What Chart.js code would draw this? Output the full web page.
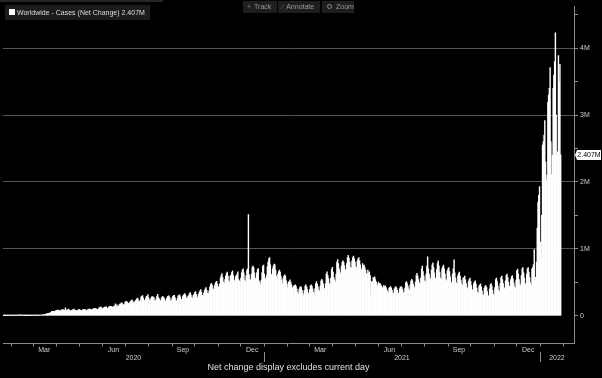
<!DOCTYPE html>
<html><head><meta charset="utf-8">
<script src="https://cdn.jsdelivr.net/npm/chart.js@4.4.1/dist/chart.umd.min.js"></script>
<style>
html,body{margin:0;padding:0;background:#000;width:602px;height:378px;overflow:hidden;}
#wrap{position:relative;width:602px;height:378px;background:#000;}
canvas{position:absolute;left:0;top:0;}
.topband{position:absolute;left:0;top:0;width:163px;height:2px;background:#262626;}
.legend{position:absolute;left:5px;top:5px;width:145px;height:15px;background:#1c1c1c;font:7px "Liberation Sans",Arial,sans-serif;color:#dcdcdc;line-height:15px;white-space:nowrap;}
.legend .sw{position:absolute;left:4px;top:4px;width:6px;height:6px;background:#fff;}
.legend .tx{position:absolute;left:12px;top:0;}
.tool{position:absolute;top:1px;height:12px;background:#1e1e1e;color:#9a9a9a;font:7px "Liberation Sans",Arial,sans-serif;line-height:12px;white-space:nowrap;}
.tool .ic{color:#777;margin:0 3px 0 4px;}
.tool .mag{display:inline-block;width:3px;height:3px;border:1px solid #888;border-radius:50%;margin:0 4px 0 5px;position:relative;top:0px;}
.foot{position:absolute;left:0;width:577px;top:362px;text-align:center;font:9px "Liberation Sans",Arial,sans-serif;color:#e0e0e0;white-space:nowrap;}
</style></head>
<body>
<div id="wrap">
<canvas id="c" width="602" height="378"></canvas>
<div class="topband"></div>
<div class="legend"><div class="sw"></div><div class="tx" id="legtx"></div></div>
<div class="tool" style="left:243px;width:34px;"><span class="ic">+</span>Track</div>
<div class="tool" style="left:278px;width:42px;"><span class="ic">&#8725;</span>Annotate</div>
<div class="tool" style="left:322px;width:32px;"><span class="mag"></span>Zoom</div>
<div class="foot">Net change display excludes current day</div>
</div>
<script>
// Worldwide daily cases (net change), thousands, one value per day starting 2020-01-22
const seriesName = 'Worldwide - Cases (Net Change)';
const firstDate = [2020, 1, 22];
// 2020-01-22 .. 2020-07-14
const casesA = [
0.5,0.3,0.6,0.8,1.2,1.5,1.8, 1.7,2.0,2.1,2.6,2.8,3.2,3.9, 3.7,3.2,3.4,2.7,3.0,2.6,2.0,
2.1,15.1,6.5,2.6,2.1,2.0,1.9, 0.5,0.6,1.0,0.6,0.9,0.5,0.9, 1.1,1.3,1.8,1.8,1.8,2.5,2.4,
2.5,2.8,3.9,4.1,3.8,4.0,4.6, 7.5,7.6,10.9,10.8,11.0,13.8,14.7, 17.4,27.2,30.0,30.3,33.7,39.1,42.5,
50.8,62.3,64.2,65.7,59.3,60.4,72.2, 74.2,81.0,79.0,81.3,71.6,72.8,75.6, 87.3,83.7,89.7,82.1,77.8,118,78.9,
83,86,99,82,77,73,77, 81,88,99,85,78,70,76, 77,85,92,86,79,75,80,
91,88,95,89,78,76,85, 90,98,98,93,81,88,94, 106,106,106,104,98,91,95,
106,120,124,132,104,100,114, 120,129,128,131,108,108,122, 136,139,140,136,127,123,141,
139,178,147,160,130,137,160, 173,178,190,189,164,158,173, 206,205,215,196,184,170,196,
213,226,237,216,196,187,215
];
// 2020-07-15 .. 2021-01-05
const casesB = [
228,242,262,250,213,212,232, 280,285,300,262,230,222,254, 287,293,315,270,235,215,255,
281,280,282,268,225,222,256, 293,320,270,250,230,215,263, 280,285,268,250,222,215,258,
285,292,295,265,225,218,263, 287,298,302,268,228,215,255, 291,305,310,282,238,238,285,
305,320,330,300,262,258,283, 300,330,345,310,272,256,300, 318,345,358,320,280,268,320,
347,372,390,350,302,290,336, 378,400,420,378,335,330,372, 430,465,482,455,400,395,440,
478,500,512,470,432,425,470, 560,600,630,570,500,480,540, 590,630,650,590,520,500,590,
605,645,670,600,530,510,580, 600,620,655,540,520,490,560, 640,680,700,640,530,510,600,
680,700,1510,610,540,530,620, 720,740,720,640,560,540,640, 690,705,520,500,460,530,640,
740,755,620,560,540,600,730
];
// 2021-01-06 .. 2021-06-29
const casesC = [
800,850,870,760,620,600,700, 740,770,760,680,590,540,620, 660,680,650,590,530,480,560,
590,610,590,520,470,420,500, 510,535,500,460,420,360,440, 450,460,440,400,350,320,390,
420,435,420,380,335,300,380, 440,459,430,390,340,310,390, 445,460,440,400,350,320,400,
480,508,470,430,385,360,440, 520,543,520,470,410,390,480, 620,656,600,550,480,450,560,
690,721,650,570,530,500,620, 800,840,780,700,650,620,740, 800,819,800,750,690,670,780,
870,903,860,800,720,710,820, 870,889,850,800,730,720,820, 850,869,820,760,700,680,780,
740,755,720,680,630,610,680, 640,656,600,310,510,500,570, 560,582,540,500,470,440,500,
470,484,460,440,420,380,450, 430,444,420,390,360,340,410, 420,434,410,380,340,330,400,
420,434,410,380,340,335,405
];
// 2021-06-30 .. 2021-12-21
const casesD = [
425,434,420,390,345,340,410, 490,508,480,440,400,380,460, 520,543,520,470,430,410,500,
600,632,590,540,490,470,560, 700,741,660,590,520,500,620, 740,878,700,620,560,540,680,
760,789,720,640,560,540,690, 780,819,740,650,560,540,700, 730,755,700,620,540,520,670,
700,720,660,580,500,480,620, 700,834,640,560,490,470,600, 630,650,590,530,470,450,560,
570,590,540,480,420,400,510, 540,560,510,450,390,370,480, 500,520,470,410,350,330,440,
455,474,430,370,320,300,410, 440,450,420,360,300,290,400, 465,480,440,380,320,300,420,
540,560,510,440,380,360,480, 570,590,540,480,420,400,520, 600,622,570,500,440,420,540,
580,600,550,490,430,410,530, 670,696,620,540,470,450,600, 700,720,640,560,480,460,620,
700,720,650,570,490,450,700
];
// 2021-12-22 .. 2022-01-28
const casesE = [
720,760,987,520,572,800,1310,1700,1800,1930,
1100,927,1500,2550,2600,2700,2920,2300,2020,2100,
3190,3300,3400,3710,2600,2110,2400,3400,3600,3800,
4230,3000,2400,2450,3890,3500,3760,2407
];
// axis labels
const yTickValues = [0,500,1000,1500,2000,2500,3000,3500,4000,4500];
const yTickLabels = {0:'0',1000:'1M',2000:'2M',3000:'3M',4000:'4M'};
const monthTickLabels = ['Mar','Jun','Sep','Dec','Mar','Jun','Sep','Dec'];
const monthTickMonths = [[2020,3],[2020,6],[2020,9],[2020,12],[2021,3],[2021,6],[2021,9],[2021,12]];
const yearLabels = ['2020','2021','2022'];
const axisEnd = [2022, 2, 15];

const startUTC = Date.UTC(firstDate[0], firstDate[1]-1, firstDate[2]);
const dayIdx = (y,m,d) => (Date.UTC(y,m-1,d) - startUTC) / 86400000;
const allCases = [].concat(casesA, casesB, casesC, casesD, casesE);
const points = allCases.map((v,i) => ({x:i, y:v}));
const lastVal = allCases[allCases.length-1];
const lastLabel = (lastVal/1000).toFixed(3) + 'M';
document.getElementById('legtx').textContent = seriesName + ' ' + lastLabel;

const FONT = '"Liberation Sans", Arial, sans-serif';
const axisColor = '#8c8c8c';
const labelColor = '#cfcfcf';

const timeAxis = {
  id: 'timeAxis',
  afterDraw(chart) {
    const {ctx, chartArea: a, scales: {x, y}} = chart;
    ctx.save();
    const yb = Math.round(a.bottom) + 0.5;
    ctx.strokeStyle = axisColor; ctx.lineWidth = 1;
    ctx.beginPath();
    ctx.moveTo(a.left, yb); ctx.lineTo(a.right, yb);
    for (let yr = 2020; yr <= 2022; yr++) {
      for (let m = 1; m <= 12; m++) {
        const v = dayIdx(yr, m, 1) - 0.5;
        if (v < x.min || v > x.max) continue;
        const px = Math.round(x.getPixelForValue(v)) + 0.5;
        ctx.moveTo(px, yb); ctx.lineTo(px, yb + 3);
      }
    }
    ctx.stroke();
    ctx.fillStyle = labelColor;
    ctx.font = '7px ' + FONT;
    ctx.textAlign = 'center'; ctx.textBaseline = 'middle';
    monthTickLabels.forEach((lab, i) => {
      const [yr, m] = monthTickMonths[i];
      const s = dayIdx(yr, m, 1) - 0.5;
      const e = (m === 12 ? dayIdx(yr+1, 1, 1) : dayIdx(yr, m+1, 1)) - 0.5;
      ctx.fillText(lab, (x.getPixelForValue(s) + x.getPixelForValue(e)) / 2, a.bottom + 7);
    });
    yearLabels.forEach(lab => {
      const yr = +lab;
      const s = Math.max(x.getPixelForValue(dayIdx(yr,1,1) - 0.5), a.left);
      const e = Math.min(x.getPixelForValue(dayIdx(yr+1,1,1) - 0.5), a.right);
      ctx.fillText(lab, (s + e) / 2, a.bottom + 15);
      const sepV = dayIdx(yr,1,1) - 0.5;
      if (sepV > x.min && sepV < x.max) {
        const px = Math.round(x.getPixelForValue(sepV)) + 0.5;
        ctx.beginPath(); ctx.moveTo(px, a.bottom + 9); ctx.lineTo(px, a.bottom + 19); ctx.stroke();
      }
    });
    // last value tag
    const py = Math.round(y.getPixelForValue(lastVal));
    const bx = a.right + 3;
    ctx.fillStyle = '#ffffff';
    ctx.beginPath();
    ctx.moveTo(bx - 2, py);
    ctx.lineTo(bx, py - 5);
    ctx.lineTo(bx + 24, py - 5);
    ctx.lineTo(bx + 24, py + 5);
    ctx.lineTo(bx, py + 5);
    ctx.closePath(); ctx.fill();
    ctx.fillStyle = '#000';
    ctx.font = '7px ' + FONT;
    ctx.textAlign = 'center';
    ctx.fillText(lastLabel, bx + 12, py + 0.5);
    ctx.restore();
  }
};

new Chart(document.getElementById('c'), {
  type: 'bar',
  data: { datasets: [{
    data: points,
    backgroundColor: '#ffffff',
    borderWidth: 0,
    barPercentage: 1,
    categoryPercentage: 1,
    inflateAmount: 0.33
  }]},
  options: {
    responsive: false,
    animation: false,
    events: [],
    layout: { padding: { top: 3, left: 3, bottom: 35, right: 0 } },
    plugins: { legend: { display: false }, tooltip: { enabled: false } },
    scales: {
      x: { type: 'linear', display: false, offset: false,
           min: -0.6, max: dayIdx(axisEnd[0], axisEnd[1], axisEnd[2]) - 0.4 },
      y: {
        position: 'right', min: -410, max: 4630,
        afterBuildTicks: s => { s.ticks = yTickValues.map(v => ({value: v})); },
        afterFit: s => { s.width = 28; },
        border: { display: true, color: axisColor, width: 1 },
        grid: {
          color: c => (c.tick && c.tick.value > 0 && c.tick.value % 1000 === 0) ? '#555555' : 'rgba(0,0,0,0)',
          tickColor: axisColor, tickLength: 4, lineWidth: 1, drawOnChartArea: true
        },
        ticks: { color: labelColor, font: { family: FONT, size: 7 }, padding: 2,
                 autoSkip: false, maxRotation: 0, callback: v => (yTickLabels[v] ?? '') }
      }
    }
  },
  plugins: [timeAxis]
});
</script>
</body></html>
